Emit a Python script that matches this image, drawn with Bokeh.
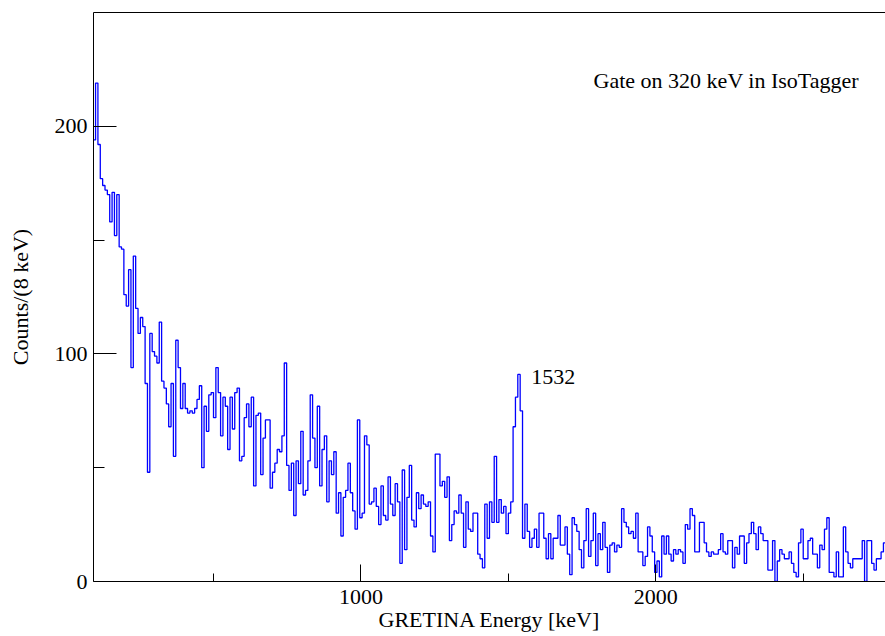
import numpy as np
from bokeh.plotting import figure
from bokeh.models import FixedTicker, Range1d, Label, LinearAxis
from bokeh.embed import file_html
from bokeh.resources import INLINE

# Histogram definition: first bin low edge and bin width (keV)
BIN_START = 92
BIN_WIDTH = 8

# Counts per 8 keV bin
counts = [
    194, 219, 192, 177, 174, 172, 170, 158, 171, 152, 170, 147, 146, 126, 121, 137, 94, 143, 120, 109,
    116, 112, 87, 48, 109, 101, 99, 96, 114, 88, 85, 78, 68, 87, 55, 106, 94, 76, 87, 76,
    74, 75, 74, 76, 80, 86, 50, 77, 66, 82, 83, 72, 94, 83, 64, 81, 77, 58, 81, 67,
    83, 85, 53, 55, 72, 78, 68, 81, 42, 73, 74, 47, 63, 71, 71, 41, 48, 52, 58, 57,
    64, 96, 51, 40, 52, 29, 53, 43, 66, 38, 40, 53, 82, 63, 50, 77, 42, 58, 64, 35,
    53, 47, 57, 30, 39, 20, 37, 40, 52, 39, 31, 23, 71, 28, 30, 64, 60, 34, 35, 41,
    33, 25, 42, 29, 27, 46, 34, 29, 43, 35, 8, 49, 14, 37, 51, 27, 24, 39, 32, 38,
    34, 33, 35, 20, 13, 56, 56, 42, 44, 37, 46, 18, 25, 31, 30, 38, 30, 15, 35, 23,
    22, 30, 30, 12, 10, 6, 34, 19, 35, 26, 55, 26, 36, 30, 33, 21, 30, 35, 68, 81,
    91, 75, 19, 34, 22, 15, 19, 23, 15, 30, 30, 19, 10, 21, 10, 19, 19, 29, 16, 16,
    24, 12, 3, 28, 25, 22, 14, 6, 18, 32, 11, 18, 30, 7, 21, 14, 26, 15, 4, 16,
    17, 13, 16, 15, 32, 26, 24, 21, 22, 19, 30, 13, 13, 7, 11, 24, 20, 13, 4, 9,
    2, 20, 12, 20, 12, 9, 14, 12, 14, 13, 8, 25, 23, 32, 29, 13, 13, 26, 26, 17,
    13, 11, 13, 12, 12, 14, 21, 13, 12, 18, 18, 6, 15, 12, 20, 20, 8, 17, 21, 26,
    21, 14, 24, 21, 18, 18, 5, 5, 18, 0, 9, 14, 12, 10, 10, 13, 8, 4, 2, 17,
    23, 10, 10, 18, 19, 12, 12, 6, 16, 14, 23, 28, 4, 4, 2, 13, 2, 2, 24, 13,
    8, 6, 10, 10, 10, 10, 18, 0, 18, 18, 8, 5, 10, 10, 13, 17, 14, 6,
]

X_TICKS = [1000, 2000]
X_MINOR_TICKS = [500, 1500, 2500]
Y_TICKS = [0, 100, 200]
Y_MINOR_TICKS = [50, 150]

edges = BIN_START + BIN_WIDTH * np.arange(len(counts) + 1)
step_y = counts + [counts[-1]]

FONT = "Liberation Serif"
FS = "22px"

p = figure(width=885, height=636, output_backend="svg", toolbar_location=None,
           x_range=Range1d(93, 2779), y_range=Range1d(0, 250),
           min_border_left=93, min_border_right=0, min_border_top=12,
           min_border_bottom=55, background_fill_color="white",
           border_fill_color="white")

p.step(x=edges, y=step_y, mode="after", line_color="#0000ff", line_width=1.3)

p.xgrid.visible = False
p.ygrid.visible = False
p.outline_line_color = None

xa = p.below[0]
ya = p.left[0]

# top frame line only (right side is cut off in the reference)
top_axis = LinearAxis(ticker=FixedTicker(ticks=[], minor_ticks=[]), axis_line_color="black",
                      major_tick_in=0, major_tick_out=0, minor_tick_in=0, minor_tick_out=0,
                      major_label_standoff=0)
p.add_layout(top_axis, "above")

xa.ticker = FixedTicker(ticks=X_TICKS, minor_ticks=X_MINOR_TICKS)
ya.ticker = FixedTicker(ticks=Y_TICKS, minor_ticks=Y_MINOR_TICKS)

for ax in (xa, ya):
    ax.axis_line_color = "black"
    ax.major_tick_line_color = "black"
    ax.minor_tick_line_color = "black"
    ax.major_tick_out = 0
    ax.minor_tick_out = 0
    ax.major_label_text_font = FONT
    ax.major_label_text_font_size = FS
    ax.major_label_text_color = "black"
    ax.axis_label_text_font = FONT
    ax.axis_label_text_font_size = FS
    ax.axis_label_text_font_style = "normal"
    ax.axis_label_text_color = "black"

xa.major_tick_in = 17
xa.minor_tick_in = 8
ya.major_tick_in = 23
ya.minor_tick_in = 11

xa.axis_label = "GRETINA Energy [keV]"
ya.axis_label = "Counts/(8 keV)"
xa.major_label_standoff = 8
ya.major_label_standoff = 6
xa.axis_label_standoff = 0
ya.axis_label_standoff = 19

p.add_layout(Label(x=1578, y=90, text="1532", text_font=FONT, text_font_size=FS,
                   text_baseline="middle", text_color="black"))
p.add_layout(Label(x=1789, y=220, text="Gate on 320 keV in IsoTagger", text_font=FONT,
                   text_font_size=FS, text_baseline="middle", text_color="black"))

open("out.html", "w").write(file_html(p, INLINE))
